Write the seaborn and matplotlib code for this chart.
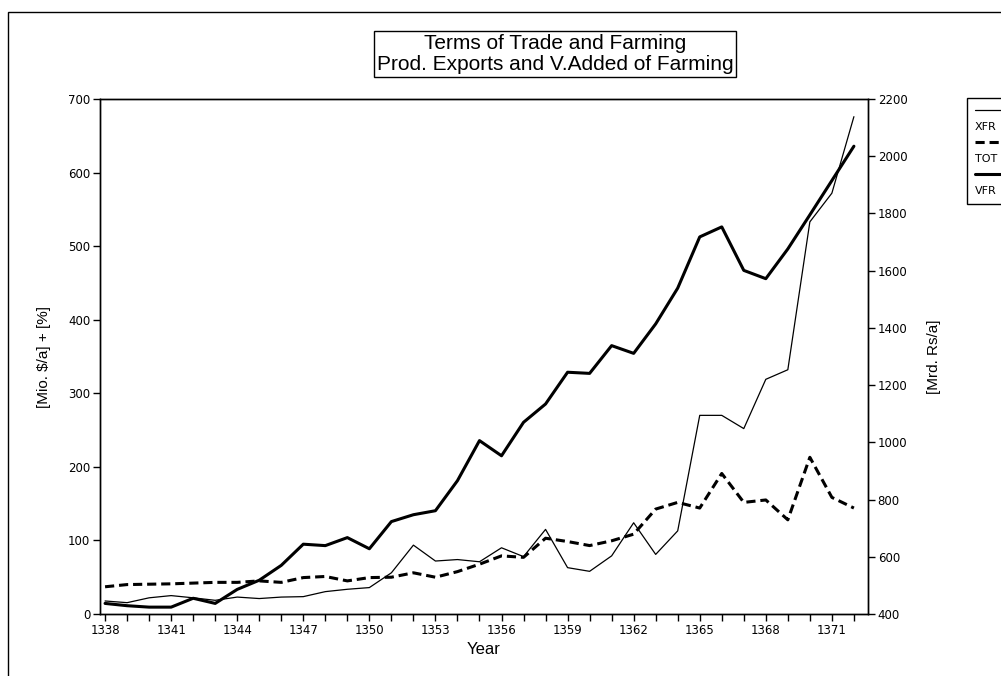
import matplotlib
matplotlib.use("Agg")
import matplotlib.pyplot as plt
import pandas as pd
import seaborn as sns
from matplotlib.lines import Line2D
from matplotlib.patches import Rectangle
from matplotlib.ticker import MultipleLocator


years = list(range(1338, 1373))

# farming product exports, Mio $/a (left axis)
xfr = [17.7, 15.4, 22, 25, 22, 18.6, 23, 21, 23, 23.6, 30.4, 33.6, 35.9, 56, 93.6, 72, 74, 71,
       90, 78, 115, 63, 58, 79, 124, 81, 113, 270, 270, 252, 319, 332, 533, 572, 676]

# terms of trade, % (left axis)
tot = [37, 40, 40.5, 41, 42, 43, 43, 45, 43, 49.5, 51, 45, 49.5, 50, 56, 50, 57.6, 67.7,
       79, 77, 103, 98.5, 93, 99.5, 108.5, 142.6, 151.7, 144, 191, 151.7, 155, 128, 213, 158.5, 144]

# value added of farming, Mrd. Rs/a (right axis)
vfr = [437, 429, 424, 424, 455, 437, 486, 518, 570, 644, 639, 667, 628, 723, 747, 761, 866, 1006,
       953, 1070, 1134, 1245, 1241, 1338, 1311, 1414, 1539, 1718, 1753, 1601, 1572, 1676, 1795, 1915, 2035]

year_ticks = list(range(1338, 1372, 3))
left_ticks = list(range(0, 701, 100))
right_ticks = list(range(400, 2201, 200))

df = pd.DataFrame({"year": years, "XFR": xfr, "TOT": tot, "VFR": vfr})

sns.set_theme(style="ticks")
plt.rcParams["font.family"] = ["DejaVu Sans"]
plt.rcParams["text.color"] = "black"
plt.rcParams["axes.labelcolor"] = "black"
plt.rcParams["axes.linewidth"] = 1.0
plt.rcParams["xtick.major.size"] = 5
plt.rcParams["xtick.minor.size"] = 5
plt.rcParams["ytick.major.size"] = 5
plt.rcParams["xtick.color"] = "black"
plt.rcParams["ytick.color"] = "black"
plt.rcParams["axes.edgecolor"] = "black"

fig = plt.figure(figsize=(10.01, 6.76), dpi=100)
ax = fig.add_axes([100 / 1001, 1 - 614 / 676, 768 / 1001, 515 / 676])
ax2 = ax.twinx()

sns.lineplot(data=df, x="year", y="XFR", ax=ax, color="black", linewidth=0.9)
sns.lineplot(data=df, x="year", y="TOT", ax=ax, color="black", linewidth=2.2,
             linestyle=(0, (3, 1.6)))
sns.lineplot(data=df, x="year", y="VFR", ax=ax2, color="black", linewidth=2.2)

ax.set_xlim(1337.77, 1372.64)
ax.set_ylim(0, 700)
ax2.set_ylim(400, 2200)
ax.set_xticks(year_ticks)
ax.xaxis.set_minor_locator(MultipleLocator(1))
ax.set_yticks(left_ticks)
ax2.set_yticks(right_ticks)

for a in (ax, ax2):
    a.tick_params(labelsize=8.5, width=1, pad=2, labelcolor="black")
    for s in a.spines.values():
        s.set_visible(True)
        s.set_color("black")

ax.set_xlabel("Year", fontsize=12, family="Liberation Sans", labelpad=4, color="black")
ax.set_ylabel("[Mio. $/a] + [%]", fontsize=11, family="Liberation Sans", labelpad=12, color="black")
ax2.set_ylabel("[Mrd. Rs/a]", fontsize=11, family="Liberation Sans", labelpad=14, rotation=90,
               color="black")

fig.text(555 / 1001, 1 - 54 / 676,
         "Terms of Trade and Farming\nProd. Exports and V.Added of Farming",
         ha="center", va="center", fontsize=15, family="Liberation Sans", linespacing=1.15,
         color="black",
         bbox=dict(boxstyle="square,pad=0.12", fc="white", ec="black", lw=1))

blank = Line2D([], [], linestyle="none")
handles = [
    Line2D([], [], color="black", linewidth=0.9), blank,
    Line2D([], [], color="black", linewidth=2.2, linestyle=(0, (3, 1.6))), blank,
    Line2D([], [], color="black", linewidth=2.2), blank,
]
labels = ["", "XFR", "", "TOT", "", "VFR"]
fig.legend(handles, labels, loc="upper left", bbox_to_anchor=(967 / 1001, 1 - 98 / 676),
           handlelength=3, handletextpad=-3, fancybox=False, edgecolor="black",
           framealpha=1, borderaxespad=0, borderpad=0.7, labelspacing=0.55,
           prop={"size": 8, "family": "DejaVu Sans"}, labelcolor="black")

fig.add_artist(Rectangle((8 / 1001, -0.1), 1.2, 1.1 - 12 / 676, transform=fig.transFigure,
                         fill=False, edgecolor="black", linewidth=1))

fig.savefig("out.png", dpi=100)
